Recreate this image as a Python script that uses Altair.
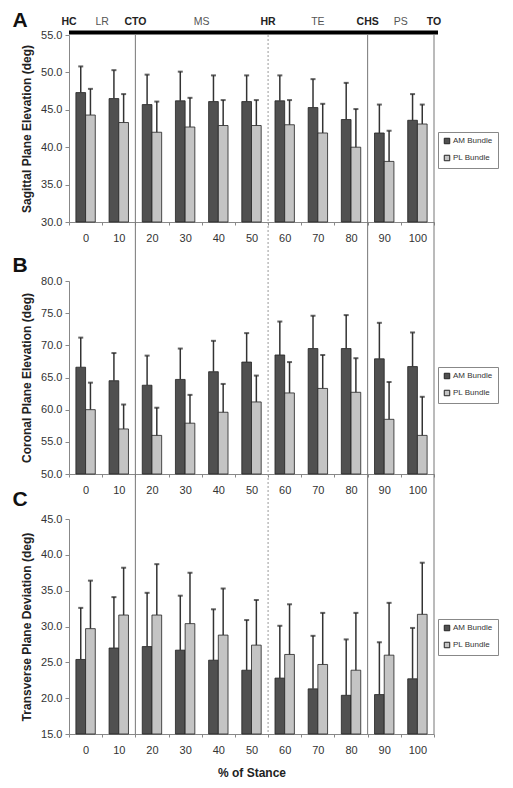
import altair as alt
import pandas as pd

# ---------------- data ----------------
stance = ["0", "10", "20", "30", "40", "50", "60", "70", "80", "90", "100"]
bundles = ["AM Bundle", "PL Bundle"]

# Panel A: Sagittal plane elevation (deg)
a_am = [47.3, 46.5, 45.7, 46.2, 46.1, 46.1, 46.2, 45.3, 43.7, 41.9, 43.6]
a_am_sd = [3.5, 3.8, 4.0, 3.9, 3.5, 3.5, 3.4, 3.8, 4.9, 3.8, 3.5]
a_pl = [44.3, 43.3, 42.0, 42.7, 42.9, 42.9, 43.0, 41.9, 40.0, 38.1, 43.1]
a_pl_sd = [3.5, 3.8, 4.1, 3.9, 3.4, 3.4, 3.3, 3.9, 5.1, 4.1, 2.6]

# Panel B: Coronal plane elevation (deg)
b_am = [66.6, 64.5, 63.8, 64.7, 65.9, 67.4, 68.5, 69.5, 69.5, 67.9, 66.7]
b_am_sd = [4.6, 4.3, 4.6, 4.8, 4.8, 4.5, 5.2, 5.1, 5.2, 5.6, 5.3]
b_pl = [60.0, 57.0, 56.0, 57.9, 59.6, 61.2, 62.6, 63.3, 62.7, 58.5, 56.0]
b_pl_sd = [4.2, 3.8, 4.3, 4.4, 4.4, 4.1, 4.8, 5.2, 5.3, 5.8, 6.0]

# Panel C: Transverse plane deviation (deg)
c_am = [25.4, 27.0, 27.2, 26.7, 25.3, 23.9, 22.8, 21.3, 20.4, 20.5, 22.7]
c_am_sd = [7.2, 7.1, 7.5, 7.6, 7.1, 7.0, 7.3, 7.4, 7.8, 7.3, 7.1]
c_pl = [29.7, 31.6, 31.6, 30.4, 28.8, 27.4, 26.1, 24.7, 23.9, 26.0, 31.7]
c_pl_sd = [6.7, 6.6, 7.1, 7.1, 6.5, 6.3, 7.0, 7.2, 8.0, 7.3, 7.2]

# gait events (at phase boundaries) and phases
event_names = ["HC", "CTO", "HR", "CHS", "TO"]
event_cat = ["0", "20", "60", "90", "100"]
event_band = [0, 0, 0, 0, 1]
phase_names = ["LR", "MS", "TE", "PS"]
phase_cat = ["10", "40", "70", "100"]
phase_band = [0, 0, 0.5, 0]
line_cat = ["20", "60", "90", "100"]
line_band = [0, 0, 0, 1]
line_dash = [False, True, False, False]

FONT = "Liberation Sans"
W = 365
DARK = "#505050"
LIGHT = "#c4c4c4"


def long_df(am, am_sd, pl, pl_sd):
    rows = []
    for i, s in enumerate(stance):
        rows.append(dict(stance=s, bundle=bundles[0], mean=am[i], upper=round(am[i] + am_sd[i], 2)))
        rows.append(dict(stance=s, bundle=bundles[1], mean=pl[i], upper=round(pl[i] + pl_sd[i], 2)))
    return pd.DataFrame(rows)


def panel(am, am_sd, pl, pl_sd, domain, ytitle, height, legend_y, gap_above,
          letter, letter_y, xtitle=None, top=False):
    df = long_df(am, am_sd, pl, pl_sd)
    xaxis = alt.Axis(title=xtitle, labelAngle=0, tickBand="extent", tickSize=3,
                     labelPadding=7, labelFontSize=11, labelColor="#333",
                     domainColor="#888", tickColor="#888", labelFont=FONT,
                     titleFont=FONT, titleFontSize=12, titleFontWeight="bold",
                     titlePadding=12, titleColor="#222", grid=False)
    yaxis = alt.Axis(title=ytitle, values=list(range(domain[0], domain[1] + 1, 5)),
                     format=".1f", tickSize=4, labelPadding=3, labelFontSize=11,
                     labelColor="#333", labelFont=FONT, domainColor="#888",
                     tickColor="#888", titleFont=FONT, titleFontSize=12,
                     titleFontWeight="bold", titleColor="#222", titlePadding=7,
                     grid=False, labelOverlap=False)
    xscale = alt.Scale(domain=stance, paddingInner=0, paddingOuter=0)
    yscale = alt.Scale(domain=domain, nice=False, zero=False)

    def xenc(band=0.5):
        return alt.X("stance:N", sort=stance, scale=xscale, bandPosition=band, axis=xaxis)

    xoff = alt.XOffset("bundle:N", sort=bundles,
                       scale=alt.Scale(domain=bundles, paddingInner=0, paddingOuter=0.71))

    base = alt.Chart(df)
    bars = base.mark_bar(stroke="#222", strokeWidth=0.8).encode(
        x=xenc(0.5),
        xOffset=xoff,
        y=alt.Y("mean:Q", scale=yscale, axis=yaxis),
        y2=alt.datum(domain[0]),
        color=alt.Color("bundle:N", sort=bundles,
                        scale=alt.Scale(domain=bundles, range=[DARK, LIGHT]),
                        legend=alt.Legend(orient="none", legendX=369, legendY=legend_y,
                                          title=None, symbolType="square", symbolSize=30,
                                          symbolStrokeColor="#222", symbolStrokeWidth=1,
                                          labelFontSize=8, labelFont=FONT, labelColor="#333",
                                          labelOffset=2, rowPadding=7, padding=5,
                                          strokeColor="#888", fillColor="white")),
    )
    err = base.mark_rule(color="#333", strokeWidth=1.5).encode(
        x=xenc(0.5), xOffset=xoff,
        y=alt.Y("mean:Q", scale=yscale, axis=yaxis), y2="upper:Q")
    caps = base.mark_tick(color="#222", size=5, thickness=2).encode(
        x=xenc(0.5), xOffset=xoff, y=alt.Y("upper:Q", scale=yscale, axis=yaxis))

    layers = [bars, err, caps]

    # phase boundary lines
    ldf = pd.DataFrame({"stance": line_cat, "band": line_band, "dash": line_dash})
    for bpos in sorted(set(line_band)):
        for dash in (False, True):
            sub = ldf[(ldf.band == bpos) & (ldf.dash == dash)]
            if len(sub) == 0:
                continue
            mk = alt.Chart(sub).mark_rule(color="#999" if dash else "#777", strokeWidth=1,
                                          strokeDash=[2, 2] if dash else [1, 0])
            layers.append(mk.encode(x=xenc(bpos), y=alt.value(-gap_above),
                                    y2=alt.value(height)))

    if top:
        layers.append(alt.Chart(pd.DataFrame({"k": [0]})).mark_rule(
            color="black", strokeWidth=4).encode(
            x=alt.value(0), x2=alt.value(369), y=alt.value(-2.5)))
        edf = pd.DataFrame({"stance": event_cat, "name": event_names, "band": event_band})
        for bpos in sorted(set(event_band)):
            sub = edf[edf.band == bpos]
            layers.append(alt.Chart(sub).mark_text(
                fontSize=10.5, fontWeight="bold", font=FONT, color="#222",
                baseline="middle").encode(x=xenc(bpos), y=alt.value(-13), text="name:N"))
        pdf = pd.DataFrame({"stance": phase_cat, "name": phase_names, "band": phase_band})
        for bpos in sorted(set(phase_band)):
            sub = pdf[pdf.band == bpos]
            layers.append(alt.Chart(sub).mark_text(
                fontSize=10.5, font=FONT, color="#555",
                baseline="middle").encode(x=xenc(bpos), y=alt.value(-13), text="name:N"))

    layers.append(alt.Chart(pd.DataFrame({"letter": [letter]})).mark_text(
        fontSize=21, fontWeight="bold", font="Liberation Sans", color="#111",
        baseline="middle", align="center").encode(
        text="letter:N", x=alt.value(-49), y=alt.value(letter_y)))

    return alt.layer(*layers).properties(width=W, height=height)


A = panel(a_am, a_am_sd, a_pl, a_pl_sd, [30, 55], "Sagittal Plane Elevation (deg)",
          187, 97, 0, "A", -14, top=True)
B = panel(b_am, b_am_sd, b_pl, b_pl_sd, [50, 80], "Coronal Plane Elevation (deg)",
          193, 86, 59, "B", -15)
C = panel(c_am, c_am_sd, c_pl, c_pl_sd, [15, 45], "Transverse Plane Deviation (deg)",
          215, 100, 45, "C", -19, xtitle="% of Stance")

lower = alt.vconcat(B, C, spacing=45, bounds="flush").resolve_scale(color="independent")
chart = alt.vconcat(A, lower, spacing=59, bounds="flush").resolve_scale(
    color="independent"
).properties(
    padding={"left": 4, "top": 2, "right": 0, "bottom": 0}
).configure(font=FONT).configure_view(strokeWidth=0, stroke="transparent")

chart.save("out.html", embed_options={"renderer": "svg", "actions": False})
